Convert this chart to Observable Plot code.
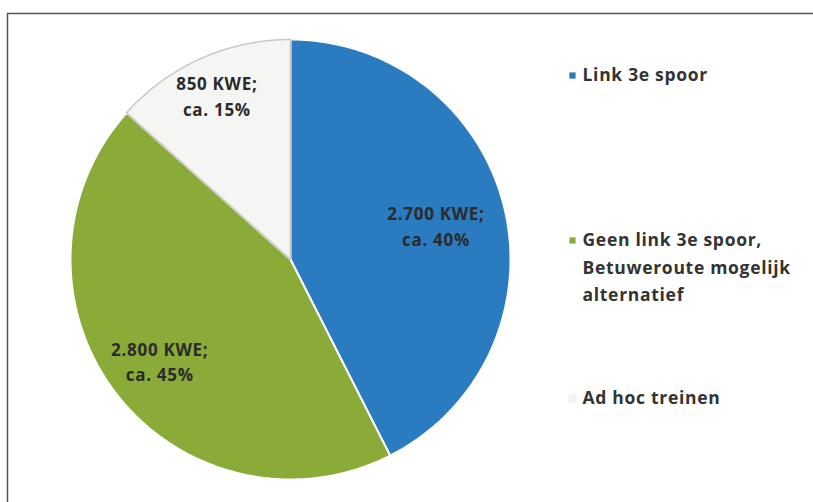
<!DOCTYPE html>
<html>
<head>
<meta charset="utf-8">
<script src="https://cdn.jsdelivr.net/npm/d3@7"></script>
<script src="https://cdn.jsdelivr.net/npm/@observablehq/plot@0.6"></script>
<style>
  html, body { margin: 0; padding: 0; background: #fff; }
  svg { display: block; }
  svg g[aria-label="text"] text { letter-spacing: 0.7px; }
</style>
</head>
<body>
<div id="chart"></div>
<script>
// ---- data ----
const categories = ["Link 3e spoor", "Geen link 3e spoor,\nBetuweroute mogelijk\nalternatief", "Ad hoc treinen"];
const values = [2700, 2800, 850];
const valueLabels = ["2.700 KWE;", "2.800 KWE;", "850 KWE;"];
const shareLabels = ["ca. 40%", "ca. 45%", "ca. 15%"];

// ---- layout / style ----
const W = 813, H = 502;
const cx = 290, cy = 259, R = 220;
const colors = ["#2a7bc0", "#8aab38", "#f5f5f4"];
const labelR = [0.68, 0.75, 0.82];
const legendX = 582;
const legendY = [75, 240, 398];

const pie = d3.pie().sort(null).value(d => d)(values);

const slicePts = [];
pie.forEach((p, i) => {
  const n = 160;
  slicePts.push({cat: i, x: cx, y: cy});
  for (let k = 0; k <= n; k++) {
    const a = p.startAngle + (p.endAngle - p.startAngle) * k / n;
    slicePts.push({cat: i, x: cx + R * Math.sin(a), y: cy - R * Math.cos(a)});
  }
  slicePts.push({cat: i, x: cx, y: cy});
});

const labels = pie.map((p, i) => {
  const a = (p.startAngle + p.endAngle) / 2;
  return {
    x: cx + R * labelR[i] * Math.sin(a),
    y: cy - R * labelR[i] * Math.cos(a),
    text: valueLabels[i] + "\n" + shareLabels[i]
  };
});

const legend = categories.map((c, i) => ({i, x: legendX, y: legendY[i], text: c}));

const chart = Plot.plot({
  width: W, height: H,
  margin: 0,
  x: {domain: [0, W], axis: null},
  y: {domain: [H, 0], axis: null},
  style: {background: "#fff", fontFamily: "'Open Sans', sans-serif"},
  marks: [
    Plot.ruleX([7], {y1: 13, y2: H, stroke: "#555", strokeWidth: 1.5}),
    Plot.ruleY([13], {x1: 7, x2: W, stroke: "#555", strokeWidth: 1.5}),
    Plot.line(slicePts, {
      x: "x", y: "y", z: "cat",
      fill: d => colors[d.cat],
      stroke: d => d.cat === 2 ? "#c8c8c8" : "#ffffff",
      strokeWidth: d => d.cat === 2 ? 1.5 : 2,
      strokeDasharray: d => d.cat === 2 ? "3,2" : null,
      curve: "linear"
    }),
    Plot.text(labels, {
      x: "x", y: "y", text: "text",
      fontSize: 17, fontWeight: "bold", fill: "#2b2b2b",
      lineHeight: 1.5
    }),
    Plot.dot(legend, {
      x: d => d.x - 10, y: "y", symbol: "square", r: 3.8,
      fill: d => colors[d.i], stroke: d => d.i === 2 ? "#e0e0e0" : "#fff", strokeWidth: 0.5
    }),
    Plot.text(legend, {
      x: "x", y: d => d.y - 14, text: "text", textAnchor: "start",
      lineAnchor: "top",
      fontSize: 17.5, fontWeight: "bold", fill: "#333",
      lineHeight: 1.58
    })
  ]
});
document.getElementById("chart").appendChild(chart);
</script>
</body>
</html>
